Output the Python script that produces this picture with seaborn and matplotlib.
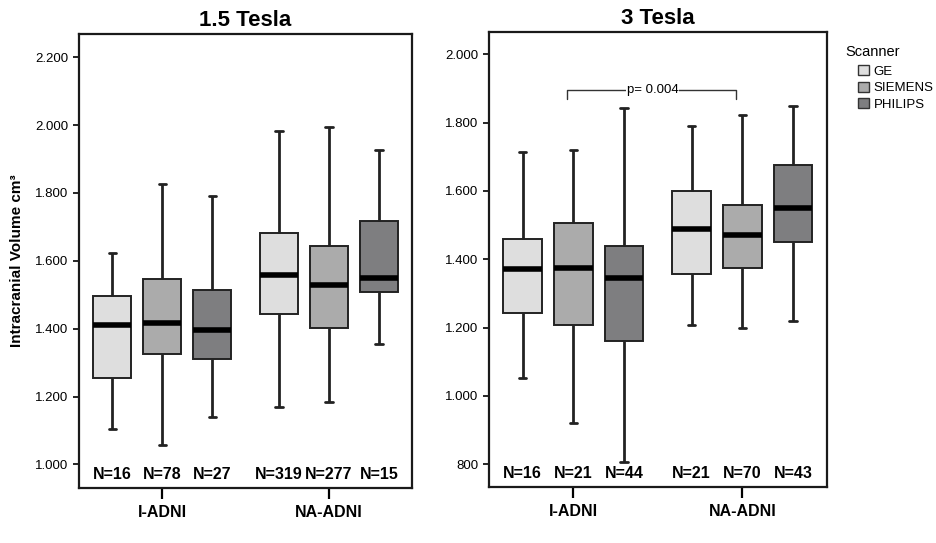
####################################################
# IMPORT STATEMENTS
####################################################
import numpy as np
import pandas as pd
import seaborn as sns
import matplotlib
matplotlib.use("Agg")
import matplotlib.pyplot as plt
from matplotlib.ticker import FuncFormatter
from matplotlib.patches import Patch

####################################################
# DATA  (whisker low, q1, median, q3, whisker high) in cm3
####################################################
cohorts = ["I-ADNI", "NA-ADNI"]
scanners = ["GE", "SIEMENS", "PHILIPS"]
colors = ["#dedede", "#ababab", "#7e7e80"]

# 1.5 Tesla
t15_ge      = [[1104, 1254, 1411, 1496, 1624], [1170, 1443, 1557, 1681, 1983]]
t15_siemens = [[1057, 1325, 1418, 1546, 1826], [1185, 1401, 1529, 1645, 1994]]
t15_philips = [[1139, 1311, 1396, 1514, 1792], [1354, 1509, 1550, 1718, 1927]]
t15_n = [[16, 78, 27], [319, 277, 15]]

# 3 Tesla
t3_ge      = [[1052, 1242, 1370, 1459, 1714], [1206, 1357, 1487, 1599, 1789]]
t3_siemens = [[922, 1207, 1373, 1505, 1719], [1200, 1375, 1471, 1558, 1822]]
t3_philips = [[806, 1162, 1346, 1440, 1843], [1220, 1449, 1549, 1675, 1848]]
t3_n = [[16, 21, 44], [21, 70, 43]]


def to_frame(ge, siemens, philips):
    rows = []
    for s, stats in zip(scanners, [ge, siemens, philips]):
        for c, vals in zip(cohorts, stats):
            for v in vals:
                rows.append({"cohort": c, "scanner": s, "icv": v})
    return pd.DataFrame(rows)


####################################################
# CODE
####################################################
sns.set_style("white")
plt.rcParams["font.family"] = ["Liberation Sans", "DejaVu Sans"]
plt.rcParams["text.color"] = "black"
plt.rcParams["axes.labelcolor"] = "black"
plt.rcParams["xtick.color"] = "black"
plt.rcParams["ytick.color"] = "black"

fig = plt.figure(figsize=(9.36, 5.43), dpi=100)
ax1 = fig.add_axes([0.0844, 0.101, 0.356, 0.836])
ax2 = fig.add_axes([0.5224, 0.103, 0.361, 0.838])


def draw_panel(ax, data, ns, title, ylim, ticks):
    sns.boxplot(data=data, x="cohort", y="icv", hue="scanner",
                order=cohorts, hue_order=scanners, palette=colors,
                whis=(0, 100), width=0.9, gap=0.24, linewidth=1.4,
                linecolor="#222222", saturation=1, showfliers=False,
                medianprops={"color": "black", "linewidth": 4},
                whiskerprops={"linewidth": 2},
                capprops={"linewidth": 2},
                legend=False, ax=ax)
    # shorter caps
    for cont in ax.containers:
        for cap in cont.caps:
            mid = np.mean(cap.get_xdata())
            cap.set_xdata([mid - 0.022, mid + 0.022])

    offs = [-0.3, 0.0, 0.3]
    for i in range(len(cohorts)):
        for j in range(len(scanners)):
            ax.text(i + offs[j], 0.03, "N=%d" % ns[i][j],
                    transform=ax.get_xaxis_transform(),
                    ha="center", va="center", fontsize=11.5, fontweight="bold")

    ax.set_xlim(-0.5, 1.5)
    ax.set_ylim(*ylim)
    ax.set_yticks(ticks)
    ax.yaxis.set_major_formatter(
        FuncFormatter(lambda v, p: ("{:,.0f}".format(v)).replace(",", ".")))
    ax.tick_params(axis="y", direction="out", length=4, width=1.2,
                   labelsize=9.5, left=True)
    ax.tick_params(axis="x", direction="out", length=8, width=1.6,
                   bottom=True, labelsize=11.5, pad=4)
    for lab in ax.get_xticklabels():
        lab.set_fontweight("bold")
    for sp in ax.spines.values():
        sp.set_visible(True)
        sp.set_color("#1a1a1a")
        sp.set_linewidth(1.6)
    ax.set_xlabel("")
    ax.set_ylabel("")
    ax.set_title(title, fontsize=16, fontweight="bold", pad=6)


draw_panel(ax1, to_frame(t15_ge, t15_siemens, t15_philips), t15_n, "1.5 Tesla",
           (930, 2268), [1000, 1200, 1400, 1600, 1800, 2000, 2200])
draw_panel(ax2, to_frame(t3_ge, t3_siemens, t3_philips), t3_n, "3 Tesla",
           (733, 2065), [800, 1000, 1200, 1400, 1600, 1800, 2000])

ax1.set_ylabel("Intracranial Volume cm³", fontsize=11, fontweight="bold", labelpad=8)

# significance bracket
ax2.plot([-0.04, -0.04, 0.96, 0.96], [1868, 1895, 1895, 1868],
         color="#333333", linewidth=1.0)
ax2.text(0.47, 1895, "p= 0.004", ha="center", va="center", fontsize=9.5,
         bbox=dict(facecolor="white", edgecolor="none", pad=0.5))

# legend
fig.text(845 / 936, 1 - 52 / 543, "Scanner", fontsize=10.5, ha="left", va="center")
handles = [Patch(facecolor=c, edgecolor="#333333", linewidth=1.0, label=s)
           for s, c in zip(scanners, colors)]
fig.legend(handles=handles, loc="upper left",
           bbox_to_anchor=(858 / 936, 1 - 65 / 543), frameon=False, fontsize=9.5,
           handlelength=0.8, handleheight=0.8, handletextpad=0.4,
           labelspacing=0.3, borderaxespad=0, borderpad=0)

fig.savefig("out.png", dpi=100)

# EOF
